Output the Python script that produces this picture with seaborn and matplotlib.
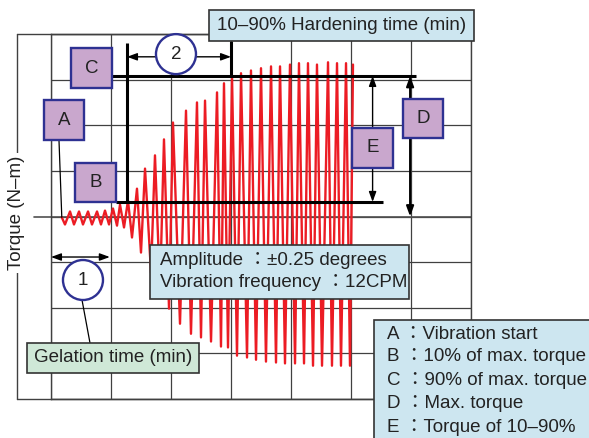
import matplotlib
matplotlib.use("Agg")
import matplotlib.pyplot as plt
from matplotlib.patches import Rectangle, Ellipse
import pandas as pd
import seaborn as sns

# ---- curve data (time in grid minutes, torque in grid units) ----
start_time = 0.18
start_torque = -0.02
trough_times = [0.233, 0.383, 0.533, 0.683, 0.833, 0.967, 1.10, 1.217, 1.35, 1.50,
                1.667, 1.817, 1.967, 2.15, 2.333, 2.50, 2.667, 2.833, 2.95, 3.10,
                3.267, 3.417, 3.583, 3.75, 3.90, 4.067, 4.217, 4.367, 4.517, 4.683,
                4.833, 4.983]
trough_torque = [-0.175, -0.175, -0.175, -0.175, -0.175, -0.175, -0.20, -0.24, -0.46, -0.79,
                 -1.23, -1.62, -2.02, -2.35, -2.57, -2.65, -2.74, -2.85, -2.87, -3.05,
                 -3.09, -3.14, -3.18, -3.20, -3.22, -3.22, -3.22, -3.27, -3.27, -3.27,
                 -3.27, -3.27]
peak_times = [0.317, 0.467, 0.617, 0.767, 0.90, 1.033, 1.15, 1.283, 1.433, 1.567,
              1.733, 1.883, 2.033, 2.25, 2.433, 2.567, 2.767, 2.883, 3.017, 3.167,
              3.333, 3.50, 3.667, 3.817, 3.983, 4.133, 4.283, 4.433, 4.617, 4.767,
              4.917, 5.033]
peak_torque = [0.11, 0.11, 0.11, 0.11, 0.13, 0.175, 0.26, 0.35, 0.61, 1.05,
               1.34, 1.69, 2.06, 2.32, 2.50, 2.54, 2.72, 2.92, 3.07, 3.14,
               3.20, 3.25, 3.29, 3.29, 3.33, 3.36, 3.36, 3.33, 3.38, 3.36,
               3.36, 3.33]

# reference levels and time marks
level_90 = 3.08
level_10 = 0.32
gel_end = 0.98
hard_start = 1.267
hard_end = 3.0

title_text = "10–90% Hardening time (min)"
gel_text = "Gelation time (min)"
amp_lines = ["Amplitude ：±0.25 degrees", "Vibration frequency ：12CPM"]
legend_lines = ["A ：Vibration start", "B ：10% of max. torque",
                "C ：90% of max. torque", "D ：Max. torque", "E ：Torque of 10–90%"]

RED = "#ec1c24"
NAVY = "#2e3192"
LILAC = "#c9a7cd"
BLUE_FILL = "#cde6f0"
GREEN_FILL = "#cfe8d7"
GRID = "#404040"
TXT = "#222222"
FS = 13.5

sns.set_theme(style="white")
plt.rcParams["font.family"] = ["Liberation Sans", "Noto Sans CJK JP", "DejaVu Sans"]

fig = plt.figure(figsize=(5.89, 4.38), dpi=100)
ax = fig.add_axes([51 / 589, 1 - 399 / 438, 420 / 589, 365 / 438])
ax.set_xlim(0, 7)
ax.set_ylim(-4, 4)
ax.set_xticks(range(0, 8))
ax.set_yticks(range(-4, 5))
ax.grid(True, color=GRID, lw=0.9)
ax.set_axisbelow(True)
ax.tick_params(length=0, labelbottom=False, labelleft=False)
for sp in ax.spines.values():
    sp.set_color(GRID)
    sp.set_linewidth(1.0)

# vibration curve: start, then alternating trough / peak
times = [start_time]
torques = [start_torque]
for tt, tv, pt, pv in zip(trough_times, trough_torque, peak_times, peak_torque):
    times += [tt, pt]
    torques += [tv, pv]
curve = pd.DataFrame({"time": times, "torque": torques})
sns.lineplot(data=curve, x="time", y="torque", sort=False, estimator=None,
             color=RED, lw=1.7, ax=ax, zorder=3)
ax.set_xlabel("")
ax.set_ylabel("")

# outer frame and zero line
ax.plot([-0.567, 7], [4, 4], color=GRID, lw=1.0, clip_on=False, zorder=2)
ax.plot([-0.567, 7], [-4, -4], color=GRID, lw=1.0, clip_on=False, zorder=2)
ax.plot([-0.567, -0.567], [-4, 4], color=GRID, lw=1.0, clip_on=False, zorder=2)
ax.plot([-0.283, 7], [0, 0], color="#505050", lw=1.2, clip_on=False, zorder=2)
ax.text(-0.567, 0.08, "Torque (N–m)", rotation=90, ha="center", va="center",
        fontsize=FS, color=TXT, zorder=5,
        bbox=dict(boxstyle="square,pad=0.15", fc="white", ec="none"))

# 10% and 90% levels, hardening time marks
ax.plot([1.0, 6.083], [level_90, level_90], color="black", lw=2.2,
        solid_capstyle="butt", zorder=4)
ax.plot([1.083, 5.533], [level_10, level_10], color="black", lw=2.2,
        solid_capstyle="butt", zorder=4)
ax.plot([hard_start, hard_start], [3.80, level_10], color="black", lw=2.2,
        solid_capstyle="butt", zorder=4)
ax.plot([hard_end, hard_end], [3.85, level_90], color="black", lw=2.2,
        solid_capstyle="butt", zorder=4)

arrow = dict(arrowstyle="<|-|>,head_length=0.6,head_width=0.22", color="black",
             lw=1.0, shrinkA=0, shrinkB=0, mutation_scale=10)
ax.annotate("", xy=(hard_start, 3.50), xytext=(hard_end, 3.50), arrowprops=arrow,
            zorder=5, annotation_clip=False)
ax.annotate("", xy=(0.0, -0.888), xytext=(gel_end, -0.888), arrowprops=arrow,
            zorder=5, annotation_clip=False)
ax.annotate("", xy=(5.36, level_90), xytext=(5.36, level_10), arrowprops=arrow,
            zorder=5, annotation_clip=False)
arrow_d = dict(arrow, lw=1.5)
ax.annotate("", xy=(5.985, level_90), xytext=(5.985, 0.0), arrowprops=arrow_d,
            zorder=5, annotation_clip=False)

# leader lines
ax.plot([0.133, start_time], [1.677, start_torque], color="black", lw=0.9, zorder=4)
ax.plot([0.517, 0.65], [-1.83, -2.773], color="black", lw=0.9, zorder=4)


def tag_box(x0, x1, y0, y1, label):
    ax.add_patch(Rectangle((x0, y1), x1 - x0, y0 - y1, fc=LILAC, ec=NAVY,
                           lw=1.7, clip_on=False, zorder=6))
    ax.text((x0 + x1) / 2, (y0 + y1) / 2, label, ha="center", va="center",
            fontsize=FS, color=TXT, zorder=7)


def note_box(x0, x1, y0, y1, fc):
    ax.add_patch(Rectangle((x0, y1), x1 - x0, y0 - y1, fc=fc, ec="#333333",
                           lw=1.2, clip_on=False, zorder=6))


def circle(cx, cy, label):
    ax.add_patch(Ellipse((cx, cy), 40 / 60, 40 / 45.625, fc="white", ec=NAVY,
                         lw=1.7, clip_on=False, zorder=6))
    ax.text(cx, cy, label, ha="center", va="center", fontsize=FS,
            color=TXT, zorder=7)


tag_box(0.333, 1.017, 3.693, 2.816, "C")
tag_box(-0.117, 0.55, 2.553, 1.677, "A")
tag_box(0.40, 1.083, 1.173, 0.318, "B")
tag_box(5.867, 6.533, 2.575, 1.721, "D")
tag_box(5.017, 5.70, 1.940, 1.063, "E")

circle(2.083, 3.559, "2")
circle(0.533, -1.392, "1")

note_box(2.633, 7.05, 4.526, 3.847, BLUE_FILL)
ax.text(4.842, 4.186, title_text, ha="center", va="center", fontsize=FS,
        color=TXT, zorder=7)

note_box(-0.40, 2.467, -2.773, -3.43, GREEN_FILL)
ax.text(1.033, -3.10, gel_text, ha="center", va="center", fontsize=FS,
        color=TXT, zorder=7)

note_box(1.65, 5.967, -0.625, -1.808, BLUE_FILL)
for yy, line in zip([-0.954, -1.436], amp_lines):
    ax.text(1.817, yy, line, ha="left", va="center", fontsize=FS,
            color=TXT, zorder=7)

note_box(5.383, 9.6, -2.268, -5.6, BLUE_FILL)
for yy, line in zip([-2.597, -3.079, -3.605, -4.088, -4.614], legend_lines):
    ax.text(5.60, yy, line, ha="left", va="center", fontsize=FS,
            color=TXT, zorder=7)

fig.savefig("out.png", dpi=100)
